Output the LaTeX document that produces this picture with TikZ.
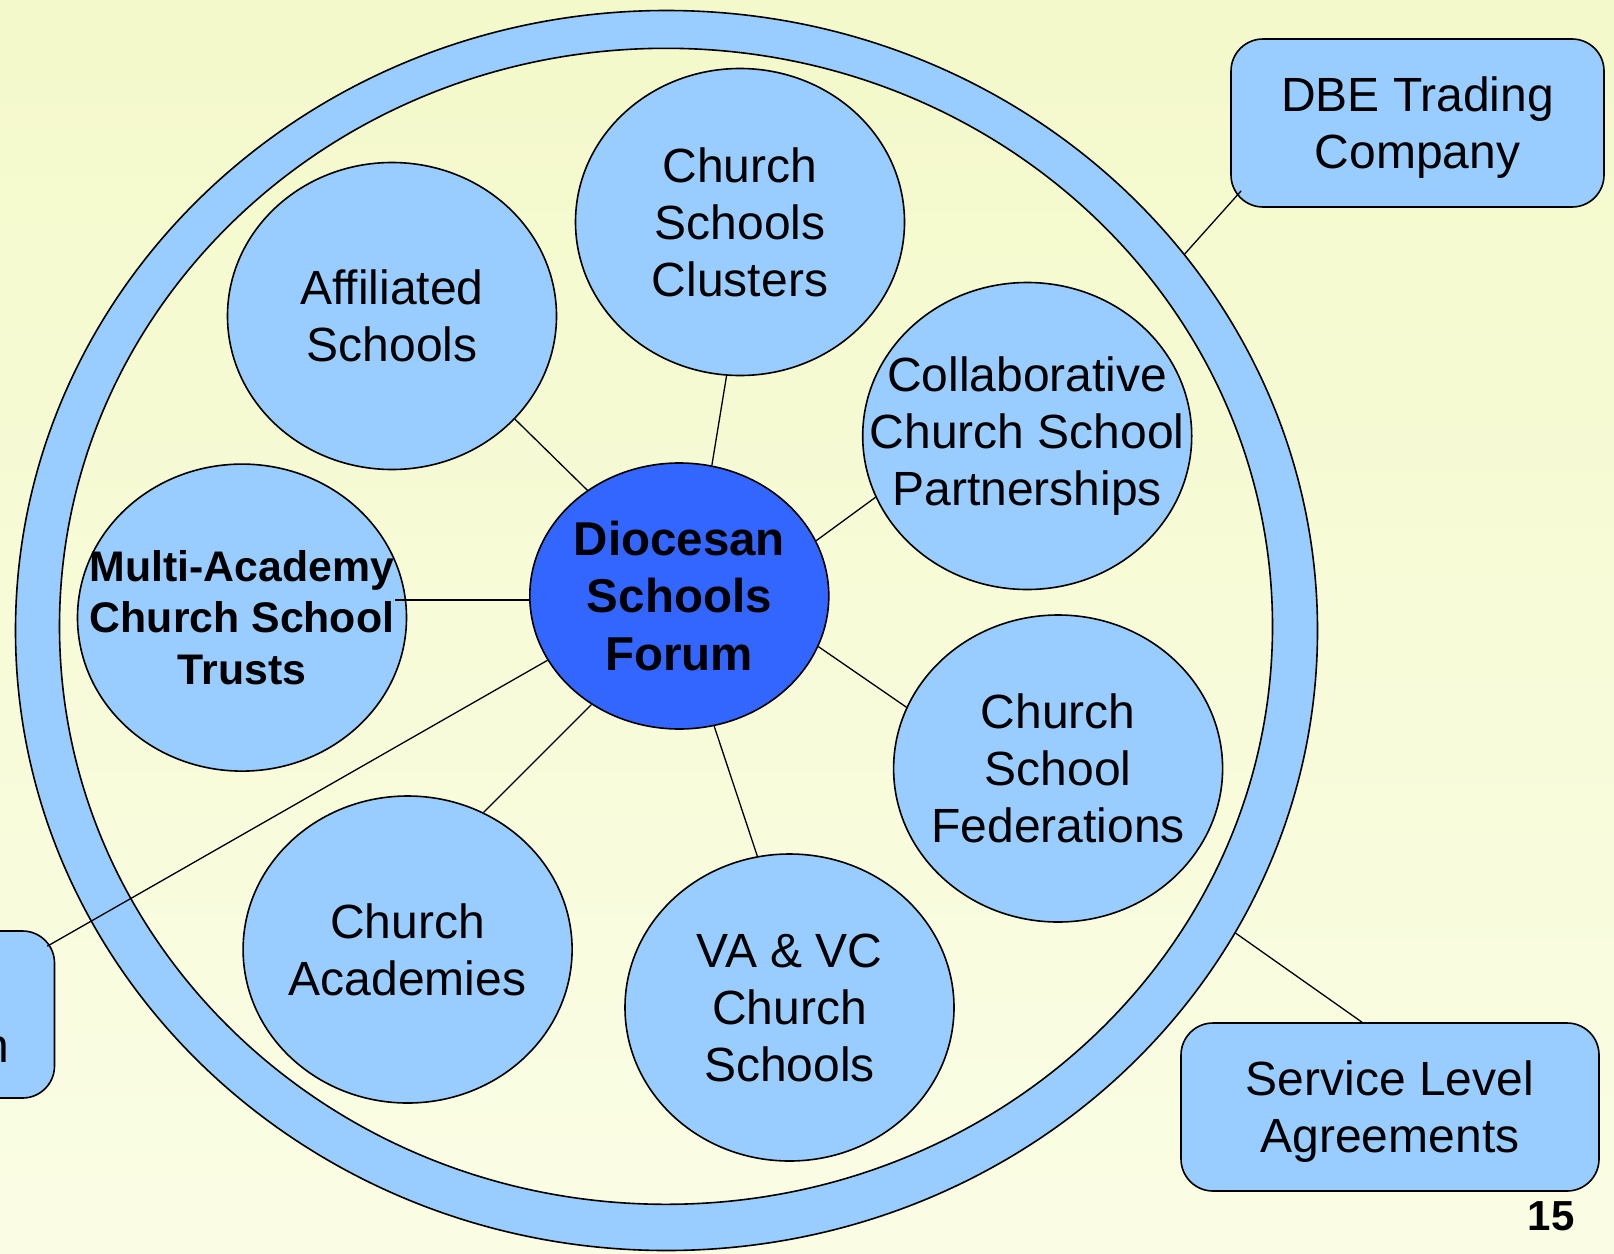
\documentclass[tikz,border=0pt]{standalone}
\usepackage{fontspec}
\setmainfont{Liberation Sans}
\usetikzlibrary{%
	positioning,
	calc,
	shapes.geometric
}
\definecolor{paleblue}{RGB}{153,204,255}
\definecolor{forumblue}{RGB}{51,102,255}
\definecolor{bgtop}{RGB}{244,249,203}
\definecolor{bgbot}{RGB}{250,253,228}

\begin{document}
\begin{tikzpicture}[
		x=1pt,y=-1pt,
		SCircle/.style={draw,shape=ellipse,fill=paleblue,line width=1.6pt,minimum width=329pt,minimum height=307pt,inner xsep=-200pt,inner ysep=-150pt,align=center,font=\fontsize{48}{57}\selectfont},
		SBox/.style={draw,shape=rectangle,rounded corners=32pt,fill=paleblue,line width=1.6pt,align=center,text depth=0pt,font=\fontsize{48}{57}\selectfont},
		link/.style={line width=1.3pt}
	]
	\useasboundingbox (0,0) rectangle (1614,1253);
	\clip (0,0) rectangle (1614,1253);
	\fill [top color=bgtop,bottom color=bgbot] (0,0) rectangle (1614,1253);

		%ring
		\node(ring) [SCircle, minimum width=1302pt, minimum height=1240pt] at (666.5,630.5) {};
		\node(ring-in) [SCircle, top color=bgtop, bottom color=bgbot, minimum width=1213pt, minimum height=1156pt] at (666,626.3) {};

		%forum and members
		\node(forum) [SCircle, fill=forumblue, minimum width=299pt, minimum height=266pt, font=\bfseries\fontsize{47.5}{57.6}\selectfont] at (679.3,596) {Diocesan\\Schools\\Forum};
		\node(clusters) [SCircle] at (740,222) {Church\\Schools\\Clusters};
		\node(affiliated) [SCircle] at (392,316) {Affiliated\\Schools};
		\node(collab) [SCircle] at (1027.2,436) {Collaborative\\Church School\\Partnerships};
		\node(mact) [SCircle, font=\bfseries\fontsize{42.8}{51.5}\selectfont] at (242,617.6) {Multi-Academy\\Church School\\Trusts};
		\node(federations) [SCircle] at (1058.1,768.5) {Church\\School\\Federations};
		\node(academies) [SCircle] at (407.6,949.5) {Church\\Academies};
		\node(vavc) [SCircle] at (789.5,1007.5) {VA \& VC\\Church\\Schools};

		%outside
		\node(dbe) [SBox, minimum width=373pt, minimum height=168pt] at (1417.5,123) {DBE Trading\\Company};
		\node(sla) [SBox, minimum width=418pt, minimum height=168pt] at (1390,1107) {Service Level\\Agreements};
		\node(lbox) [SBox, minimum width=400pt, minimum height=167pt] at (-145.5,1014.5) {};
		\node(lbox-txt) [anchor=base east, font=\fontsize{48}{57}\selectfont] at (13,1062) {n};
		\node(pagenum) [font=\bfseries\fontsize{42}{50}\selectfont] at (1551,1216) {15};

		\draw [link] (affiliated.-40) -- (forum.131);
		\draw [link] (clusters.-95) -- (forum.76);
		\draw [link] (forum.22) -- (collab.202);
		\draw [link] (forum.-20) -- (federations.158);
		\draw [link] (forum.-75) -- (vavc.102);
		\draw [link] (forum.231) -- (academies.61);
		\coordinate (mact-end) at (395,600);
		\draw [link] (mact-end) -- (mact-end -| forum.west);
		\coordinate (lbox-end) at ($(lbox.north east)+(-8,16)$);
		\draw [link] (forum.206) -- (lbox-end);
		\coordinate (dbe-end) at ($(dbe.south west)+(11,-17)$);
		\draw [link] (ring.36) -- (dbe-end);
		\coordinate (sla-end) at ($(sla.north)+(-28,0)$);
		\draw [link] (ring.-28) -- (sla-end);

\end{tikzpicture}
\end{document}
